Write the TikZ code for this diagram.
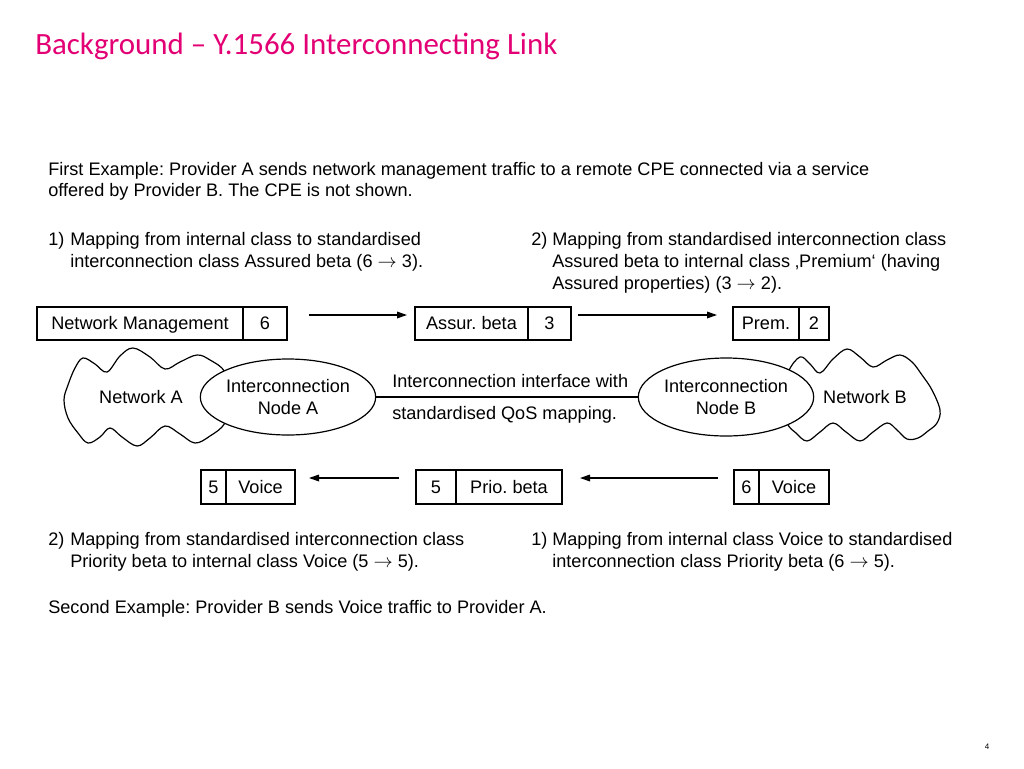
\documentclass[tikz,border=0pt]{standalone}
\usepackage{fontspec}
\setmainfont{Liberation Sans}
\newfontfamily\titlefont{Carlito}
\usetikzlibrary{arrows.meta,shapes.geometric}
\definecolor{tmag}{RGB}{226,0,116}
\frenchspacing
\begin{document}
\begin{tikzpicture}[x=0.75pt,y=-0.75pt,
  txt/.style={anchor=base west, inner sep=0, font=\fontsize{13.6}{16}\selectfont},
  cell/.style={draw, line width=0.9pt, inner sep=0, text height=9.8pt, text depth=0.4pt, font=\fontsize{13.6}{16}\selectfont},
  toprow/.style={cell, minimum height=24.75pt},
  botrow/.style={cell, minimum height=25.5pt},
  inode/.style={ellipse, draw, line width=0.9pt, fill=white, inner sep=0, align=center, font=\fontsize{13.6}{16.5}\selectfont},
  cloudline/.style={draw, line width=0.9pt, fill=white},
  flow/.style={line width=0.9pt, -{Triangle[length=7.5pt,width=5pt]}}
]
\useasboundingbox (0,0) rectangle (1024,768);

% title
\node[anchor=base west, inner sep=0, text=tmag, font=\titlefont\fontsize{23.2}{26}\selectfont] (title) at (35,54) {Background – Y.1566 Interconnecting Link};

% intro text
\node[txt] (l1) at (48,175) {First Example: Provider A sends network management traffic to a remote CPE connected via a service};
\node[txt] (l2) at (48,196) {offered by Provider B. The CPE is not shown.};

\node[txt] (a1n) at (48,245) {1)};
\node[txt] (a1a) at (70,245) {Mapping from internal class to standardised};
\node[txt] (a1b) at (70,267) {interconnection class Assured beta (6 $\rightarrow$ 3).};

\node[txt] (a2n) at (531,245) {2)};
\node[txt] (a2a) at (552,245) {Mapping from standardised interconnection class};
\node[txt] (a2b) at (552,267) {Assured beta to internal class ‚Premium‘ (having};
\node[txt] (a2c) at (552,289) {Assured properties) (3 $\rightarrow$ 2).};

% top row boxes
\node[toprow, minimum width=154.5pt] (nm) at (140,323.5) {Network Management};
\node[toprow, minimum width=33pt] (nm6) at (265,323.5) {6\hspace{9pt}};
\node[toprow, minimum width=84.75pt] (ab) at (471.5,323.5) {Assur. beta};
\node[toprow, minimum width=32.25pt] (ab3) at (549.5,323.5) {3};
\node[toprow, minimum width=49.5pt] (pr) at (766,323.5) {Prem.};
\node[toprow, minimum width=22.5pt] (pr2) at (814,323.5) {2};

\coordinate (t1s) at (309,315);
\coordinate (t1e) at (407,315);
\coordinate (t2s) at (578,315);
\coordinate (t2e) at (717,315);
\draw[flow] (t1s) -- (t1e);
\draw[flow] (t2s) -- (t2e);

% clouds
\path[cloudline] plot[smooth cycle, tension=0.6] coordinates {
 (232,398) (225,372) (210,360) (197,355) (180,362) (165,369) (150,357) (133,348)
 (120,356) (107,372) (95,364) (83,358) (75,368) (68,385) (64,400) (68,418)
 (78,433) (88,443) (100,437) (110,428) (122,437) (137,446) (150,438) (165,426)
 (180,434) (195,443) (210,436) (225,423)};
\path[cloudline] plot[smooth cycle, tension=0.6] coordinates {
 (780,398) (788,372) (800,357) (810,364) (820,373) (833,359) (847,349) (860,357)
 (873,367) (887,360) (900,355) (912,362) (922,375) (932,390) (940,410) (937,423)
 (928,431) (918,438) (907,439) (897,430) (887,423) (873,432) (860,441) (846,432)
 (833,423) (820,432) (807,441) (796,433) (787,423)};
\node[inner sep=0, font=\fontsize{13.6}{16}\selectfont] (na) at (141,397) {Network A};
\node[inner sep=0, font=\fontsize{13.6}{16}\selectfont] (nb) at (865,397) {Network B};

% interconnection nodes
\node[inode, minimum width=127.5pt, minimum height=57pt] (ia) at (288,397) {Interconnection\\Node A};
\node[inode, minimum width=130.5pt, minimum height=58.5pt] (ib) at (726,397) {Interconnection\\Node B};
\draw[line width=0.9pt] (ia.east) -- (ib.west);
\node[txt] (if1) at (392,387) {Interconnection interface with};
\node[txt] (if2) at (392,419) {standardised QoS mapping.};

% bottom row boxes
\node[botrow, minimum width=18.75pt] (v5) at (213.5,487) {5};
\node[botrow, minimum width=51.75pt] (v5t) at (260.5,487) {Voice\hspace{5pt}};
\node[botrow, minimum width=30pt] (pb5) at (436,487) {5};
\node[botrow, minimum width=79.5pt] (pbt) at (509,487) {Prio. beta};
\node[botrow, minimum width=18.75pt] (v6) at (746.5,487) {6};
\node[botrow, minimum width=52.5pt] (v6t) at (794,487) {Voice\hspace{5pt}};

\coordinate (b1s) at (399,478);
\coordinate (b1e) at (309,478);
\coordinate (b2s) at (718,478);
\coordinate (b2e) at (580,478);
\draw[flow] (b1s) -- (b1e);
\draw[flow] (b2s) -- (b2e);

% lower text
\node[txt] (c2n) at (48,545) {2)};
\node[txt] (c2a) at (70,545) {Mapping from standardised interconnection class};
\node[txt] (c2b) at (70,567) {Priority beta to internal class Voice (5 $\rightarrow$ 5).};

\node[txt] (c1n) at (531,545) {1)};
\node[txt] (c1a) at (552,545) {Mapping from internal class Voice to standardised};
\node[txt] (c1b) at (552,567) {interconnection class Priority beta (6 $\rightarrow$ 5).};

\node[txt] (l3) at (48,613) {Second Example: Provider B sends Voice traffic to Provider A.};

\node[anchor=base, inner sep=0, font=\fontsize{6}{7}\selectfont] (pg) at (987,749) {4};
\end{tikzpicture}
\end{document}
